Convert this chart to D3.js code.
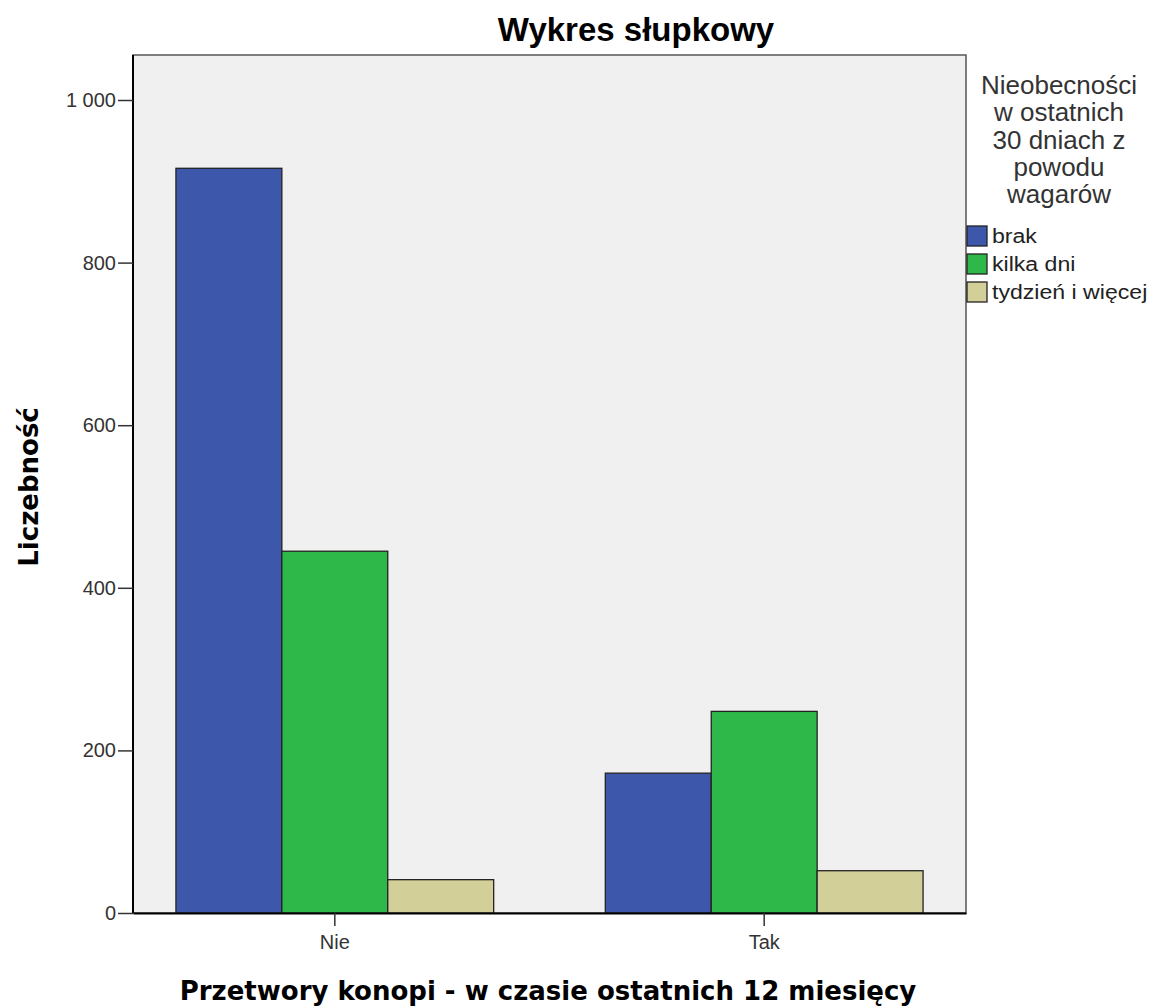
<!DOCTYPE html>
<html>
<head>
<meta charset="utf-8">
<script src="https://cdn.jsdelivr.net/npm/d3@7"></script>
<style>
body { margin: 0; background: #fff; }
</style>
</head>
<body>
<svg id="chart" width="1155" height="1008"></svg>
<script>
// categories on x axis
var categories = ['Nie', 'Tak'];
// legend series
var seriesNames = ['brak', 'kilka dni', 'tydzień i więcej'];
var seriesColors = ['#3d57aa', '#2fb84a', '#d3cf98'];
// values per series, one per category
var brak = [916, 172];
var kilkaDni = [445, 248];
var tydzien = [41, 52];
var yTicks = [0, 200, 400, 600, 800, 1000];
var legendTitle = ['Nieobecności', 'w ostatnich', '30 dniach z', 'powodu', 'wagarów'];

var allSeries = [brak, kilkaDni, tydzien];

var svg = d3.select('#chart');
var plotLeft = 133, plotRight = 966, plotTop = 55, plotBottom = 913;

var x = d3.scaleBand().domain(categories).range([plotLeft, plotRight]).paddingInner(0.26).paddingOuter(0.1);
var xInner = d3.scaleBand().domain(seriesNames).range([0, x.bandwidth()]);
var y = d3.scaleLinear().domain([0, 1000]).range([plotBottom, 100]);

// plot background
svg.append('rect')
	.attr('x', plotLeft).attr('y', plotTop)
	.attr('width', plotRight - plotLeft).attr('height', plotBottom - plotTop)
	.attr('fill', '#f0f0f0')
	.attr('stroke', '#555').attr('stroke-width', 1.5);

// bars
for(var s = 0; s < allSeries.length; s++){
	svg.append('g').selectAll('rect')
		.data(allSeries[s])
		.enter().append('rect')
			.attr('x', function(d, i){ return x(categories[i]) + xInner(seriesNames[s]); })
			.attr('y', function(d){ return y(d); })
			.attr('width', xInner.bandwidth())
			.attr('height', function(d){ return y(0) - y(d); })
			.attr('fill', seriesColors[s])
			.attr('stroke', '#222').attr('stroke-width', 1.3);
}

// axes
var yAxis = svg.append('g')
	.attr('transform', 'translate(' + plotLeft + ',0)')
	.call(d3.axisLeft(y).tickValues(yTicks).tickSize(15).tickSizeOuter(0).tickPadding(2)
		.tickFormat(function(d){ return d === 1000 ? '1 000' : d; }));
yAxis.select('.domain').attr('stroke', '#000').attr('stroke-width', 2).attr('d', 'M0,' + plotTop + 'V' + plotBottom);

var xAxis = svg.append('g')
	.attr('transform', 'translate(0,' + plotBottom + ')')
	.call(d3.axisBottom(x).tickSize(13).tickSizeOuter(0).tickPadding(9));
xAxis.select('.domain').attr('stroke', '#000').attr('stroke-width', 2);

svg.selectAll('.tick text')
	.attr('font-family', 'Liberation Sans, Arial, sans-serif')
	.attr('font-size', 20).attr('fill', '#333');
svg.selectAll('.tick line').attr('stroke', '#333').attr('stroke-width', 1.5);

// title and axis labels
svg.append('text')
	.attr('x', 636).attr('y', 41)
	.attr('text-anchor', 'middle')
	.attr('font-family', 'Liberation Sans, Arial, sans-serif')
	.attr('font-weight', 'bold').attr('font-size', 33)
	.text('Wykres słupkowy');

svg.append('text')
	.attr('x', 548).attr('y', 1000)
	.attr('text-anchor', 'middle')
	.attr('font-family', 'DejaVu Sans, Verdana, sans-serif')
	.attr('font-weight', 'bold').attr('font-size', 26)
	.text('Przetwory konopi - w czasie ostatnich 12 miesięcy');

svg.append('text')
	.attr('transform', 'translate(38,487) rotate(-90)')
	.attr('text-anchor', 'middle')
	.attr('font-family', 'DejaVu Sans, Verdana, sans-serif')
	.attr('font-weight', 'bold').attr('font-size', 26)
	.text('Liczebność');

// legend
var legend = svg.append('g');
legend.selectAll('text.title')
	.data(legendTitle)
	.enter().append('text')
		.attr('class', 'title')
		.attr('x', 1059)
		.attr('y', function(d, i){ return 94 + i * 27.3; })
		.attr('text-anchor', 'middle')
		.attr('font-family', 'Liberation Sans, Arial, sans-serif')
		.attr('font-size', 26).attr('fill', '#333')
		.text(function(d){ return d; });

var items = legend.selectAll('g.item')
	.data(seriesNames)
	.enter().append('g')
		.attr('class', 'item')
		.attr('transform', function(d, i){ return 'translate(967,' + (226 + i * 28) + ')'; });
items.append('rect')
	.attr('width', 20).attr('height', 20)
	.attr('fill', function(d, i){ return seriesColors[i]; })
	.attr('stroke', '#222').attr('stroke-width', 1.3);
items.append('text')
	.attr('transform', 'translate(25,17) scale(1.1,1)')
	.attr('font-family', 'Liberation Sans, Arial, sans-serif')
	.attr('font-size', 21).attr('fill', '#222')
	.text(function(d){ return d; });
</script>
</body>
</html>
